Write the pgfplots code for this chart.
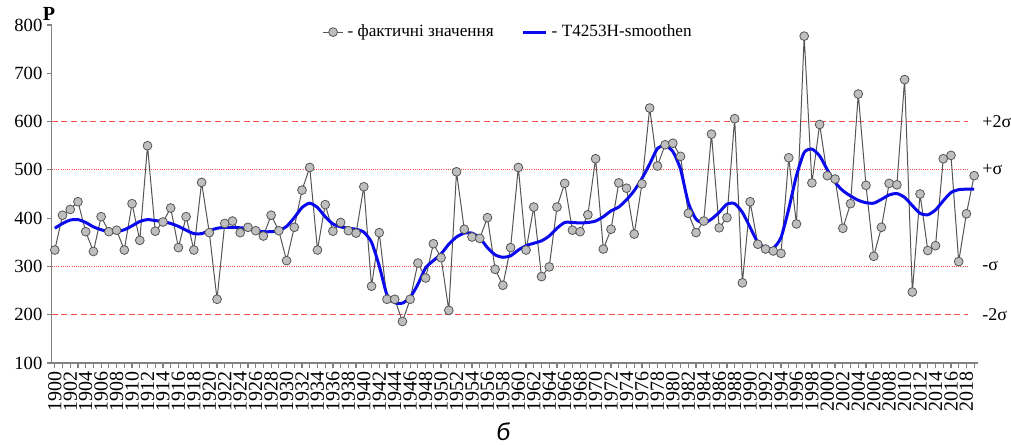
\documentclass[border=0pt]{standalone}
\usepackage{fontspec}
\setmainfont{Liberation Serif}
\newfontfamily\carl{Carlito}
\usepackage{pgfplots}
\usepackage{pgfplotstable}
\pgfplotsset{compat=1.18}
\definecolor{refred}{RGB}{250,80,80}
\definecolor{smblue}{RGB}{10,10,235}
\definecolor{mkfill}{RGB}{190,190,190}
\definecolor{mkdraw}{RGB}{85,85,85}
\definecolor{axgray}{RGB}{130,130,130}

\pgfplotstableread{
year val
1900 334
1901 406
1902 418
1903 434
1904 372
1905 331
1906 403
1907 372
1908 375
1909 334
1910 430
1911 354
1912 550
1913 373
1914 392
1915 421
1916 339
1917 403
1918 334
1919 474
1920 370
1921 232
1922 389
1923 394
1924 370
1925 381
1926 374
1927 363
1928 406
1929 374
1930 312
1931 381
1932 458
1933 505
1934 334
1935 428
1936 373
1937 391
1938 374
1939 369
1940 465
1941 259
1942 370
1943 232
1944 232
1945 186
1946 232
1947 307
1948 276
1949 347
1950 318
1951 209
1952 496
1953 377
1954 361
1955 358
1956 401
1957 294
1958 261
1959 339
1960 505
1961 334
1962 423
1963 279
1964 299
1965 423
1966 472
1967 375
1968 372
1969 407
1970 523
1971 336
1972 377
1973 473
1974 462
1975 367
1976 471
1977 628
1978 508
1979 552
1980 555
1981 528
1982 410
1983 370
1984 394
1985 574
1986 380
1987 401
1988 606
1989 266
1990 434
1991 346
1992 336
1993 332
1994 327
1995 525
1996 388
1997 777
1998 473
1999 594
2000 488
2001 481
2002 379
2003 430
2004 657
2005 468
2006 321
2007 381
2008 472
2009 469
2010 687
2011 247
2012 450
2013 333
2014 343
2015 523
2016 530
2017 310
2018 409
2019 488
}\actual

\pgfplotstableread{
year val
1900 379
1901 389
1902 396
1903 397
1904 391
1905 382
1906 376
1907 372
1908 372
1909 376
1910 384
1911 393
1912 397
1913 395
1914 393
1915 389
1916 383
1917 375
1918 368
1919 368
1920 374
1921 379
1922 381
1923 381
1924 380
1925 379
1926 375
1927 372
1928 372
1929 374
1930 383
1931 401
1932 422
1933 431
1934 422
1935 403
1936 388
1937 382
1938 379
1939 377
1940 371
1941 350
1942 301
1943 241
1944 225
1945 224
1946 236
1947 263
1948 297
1949 312
1950 326
1951 346
1952 361
1953 369
1954 369
1955 359
1956 339
1957 324
1958 319
1959 322
1960 334
1961 343
1962 348
1963 353
1964 363
1965 379
1966 391
1967 391
1968 390
1969 391
1970 394
1971 403
1972 415
1973 423
1974 438
1975 457
1976 482
1977 512
1978 544
1979 550
1980 538
1981 501
1982 432
1983 398
1984 390
1985 398
1986 412
1987 429
1988 430
1989 412
1990 381
1991 350
1992 339
1993 338
1994 360
1995 419
1996 488
1997 536
1998 543
1999 529
2000 500
2001 474
2002 457
2003 446
2004 437
2005 432
2006 431
2007 439
2008 448
2009 451
2010 443
2011 426
2012 410
2013 407
2014 417
2015 436
2016 453
2017 459
2018 460
2019 460
}\smooth

\begin{document}
\begin{tikzpicture}[x=1pt,y=1pt]
\useasboundingbox (0,0) rectangle (505.5,222.5);
\begin{axis}[
  at={(25.85pt,41pt)}, anchor=south west,
  scale only axis, width=463.15pt, height=169pt,
  xmin=1899.6, xmax=2019.5, ymin=100, ymax=800,
  clip=false,
  axis x line*=bottom, axis y line*=left,
  axis line style={axgray, line width=0.7pt},
  every tick/.style={axgray, line width=0.6pt},
  tick align=outside,
  major tick length=2.5pt, minor tick length=2.5pt,
  xtick={1900,1902,...,2018},
  minor xtick={1901,1903,...,2019},
  ytick={100,200,...,800},
  /pgf/number format/1000 sep={},
  /pgf/number format/assume math mode=true,
  xticklabel style={rotate=90, anchor=east, font=\fontsize{10}{10}\selectfont, inner sep=1.5pt},
  yticklabel style={font=\fontsize{9.3}{9.3}\selectfont, inner sep=2pt},
  legend style={draw=none, fill=none, at={(rel axis cs:0.292,0.979)}, anchor=west,
     font=\fontsize{8.6}{8.6}\selectfont, legend columns=2,
     /tikz/every even column/.append style={column sep=12pt},
     legend cell align=left, inner sep=0pt},
]
\addplot[forget plot, refred, line width=0.6pt, dash pattern=on 3pt off 1.8pt] coordinates {(1899.6,600) (2018.2,600)};
\addplot[forget plot, refred, line width=0.6pt, dash pattern=on 3pt off 1.8pt] coordinates {(1899.6,200) (2018.2,200)};
\addplot[forget plot, refred, line width=0.5pt, dash pattern=on 0.5pt off 0.6pt] coordinates {(1899.6,500) (2018.2,500)};
\addplot[forget plot, refred, line width=0.5pt, dash pattern=on 0.5pt off 0.6pt] coordinates {(1899.6,300) (2018.2,300)};

\addplot[mkdraw, line width=0.5pt, mark=*, mark size=2.2pt,
  mark options={fill=mkfill, draw=mkdraw, line width=0.4pt},
  legend image code/.code={\draw[mkdraw, line width=0.5pt] (0pt,0pt) -- (10pt,0pt);
     \draw[fill=mkfill, draw=mkdraw, line width=0.4pt] (5pt,0pt) circle (2.2pt);}
  ] table[x=year,y=val]{\actual};
\addlegendentry{- фактичні значення}
\addplot[smblue, line width=1.5pt, smooth, tension=0.4,
  legend image code/.code={\draw[smblue, line width=1.5pt] (0pt,0pt) -- (11.5pt,0pt);}
  ] table[x=year,y=val]{\smooth};
\addlegendentry{- T4253H-smoothen}

\node[anchor=west, inner sep=0pt, font=\fontsize{9}{9}\selectfont] at ([xshift=2pt]rel axis cs:1,0.7143) {+2σ};
\node[anchor=west, inner sep=0pt, font=\fontsize{9}{9}\selectfont] at ([xshift=2pt]rel axis cs:1,0.5714) {+σ};
\node[anchor=west, inner sep=0pt, font=\fontsize{9}{9}\selectfont] at ([xshift=2pt]rel axis cs:1,0.2857) {-σ};
\node[anchor=west, inner sep=0pt, font=\fontsize{9}{9}\selectfont] at ([xshift=2pt]rel axis cs:1,0.1429) {-2σ};
\node[font=\bfseries\fontsize{10}{10}\selectfont, inner sep=0pt] at ([xshift=-1.3pt,yshift=5.5pt]rel axis cs:0,1) {P};
\end{axis}
\node[font=\carl\itshape\fontsize{13}{13}\selectfont, inner sep=0pt] at (251.5,6.5) {б};
\end{tikzpicture}
\end{document}
